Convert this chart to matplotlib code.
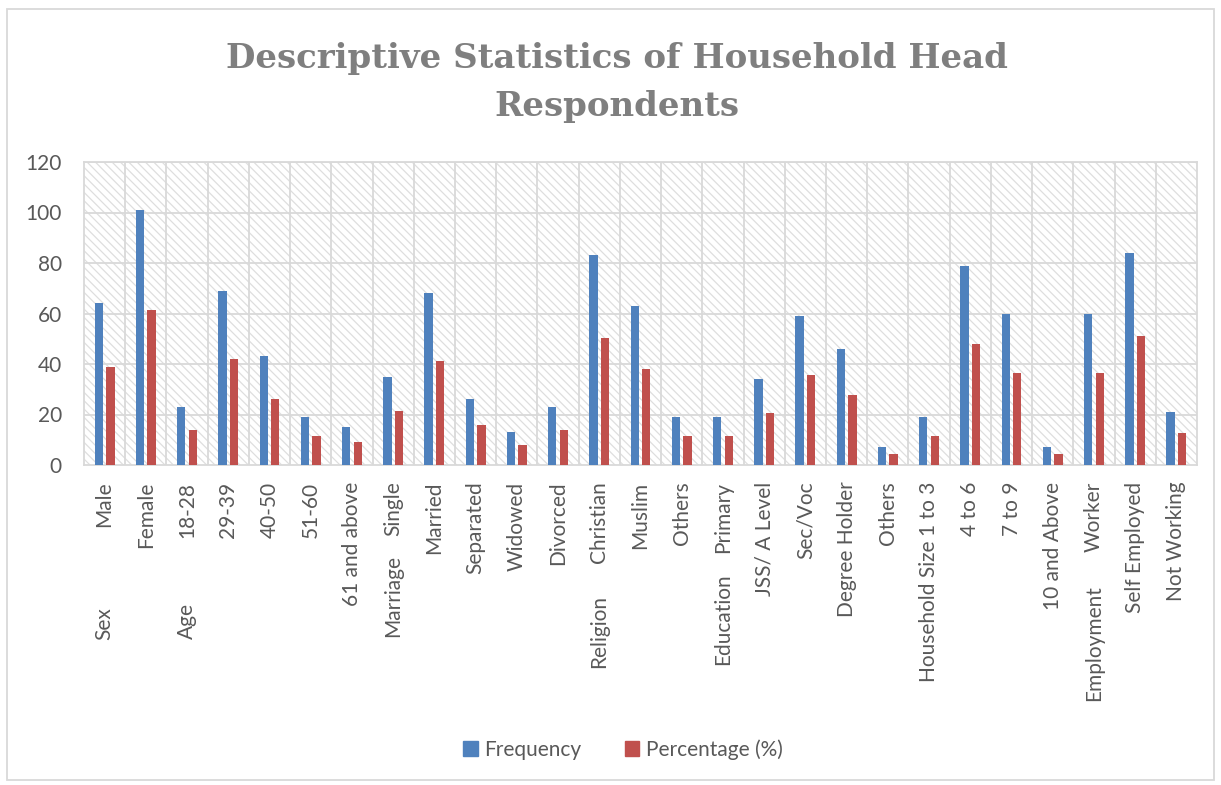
import matplotlib
matplotlib.use("Agg")
import matplotlib.pyplot as plt
import numpy as np
from matplotlib.patches import Patch, Rectangle

# --- data ---
categories = [
    "Male", "Female", "18-28", "29-39", "40-50", "51-60", "61 and above",
    "Single", "Married", "Separated", "Widowed", "Divorced",
    "Christian", "Muslim", "Others",
    "Primary", "JSS/ A Level", "Sec/Voc", "Degree Holder", "Others",
    "1 to 3", "4 to 6", "7 to 9", "10 and Above",
    "Worker", "Self Employed", "Not Working",
]
frequency = [64, 101, 23, 69, 43, 19, 15, 35, 68, 26, 13, 23, 83, 63, 19,
             19, 34, 59, 46, 7, 19, 79, 60, 7, 60, 84, 21]
percentage = [38.8, 61.2, 13.9, 41.8, 26.1, 11.5, 9.1, 21.2, 41.2, 15.8, 7.9,
              13.9, 50.3, 38.2, 11.5, 11.5, 20.6, 35.8, 27.9, 4.2, 11.5, 47.9,
              36.4, 4.2, 36.4, 50.9, 12.7]
groups = ["Sex", "Age", "Marriage", "Religion", "Education", "Household Size", "Employment"]
group_start = [0, 2, 7, 12, 15, 20, 24]

# pixel gap below the axis for each group label (layout only)
group_offset_px = [142, 138, 90, 130, 108, 75, 120]

BLUE = "#4f81bd"
RED = "#c0504d"
GRID = "#d9d9d9"
TEXT = "#595959"

plt.rcParams["font.family"] = ["Lato", "DejaVu Sans"]
plt.rcParams["hatch.linewidth"] = 0.9

fig = plt.figure(figsize=(12.21, 7.85), dpi=100)
ax = fig.add_axes([84 / 1221, 1 - 465 / 785, (1197 - 84) / 1221, (465 - 162) / 785])

# hatched plot area background
ax.add_patch(Rectangle((0, 0), 1, 1, transform=ax.transAxes, facecolor="white",
                       edgecolor="#dedede", hatch="\\\\\\\\", lw=0, zorder=0))

x = np.arange(len(categories))
w = 0.2
ax.bar(x - 0.14, frequency, width=w, color=BLUE, zorder=3, label="Frequency")
ax.bar(x + 0.14, percentage, width=w, color=RED, zorder=3, label="Percentage (%)")

ax.set_xlim(-0.5, len(categories) - 0.5)
ax.set_ylim(0, 120)
ax.set_yticks(range(0, 121, 20))
for yv in range(20, 121, 20):
    ax.axhline(yv, color=GRID, lw=1.3, zorder=1)
for xv in np.arange(0.5, len(categories) - 0.5, 1):
    ax.axvline(xv, color=GRID, lw=1.3, zorder=1)
for s in ax.spines.values():
    s.set_color(GRID)
    s.set_linewidth(1.3)

ax.set_xticks(x)
ax.set_xticklabels(categories, rotation=90, va="top", ha="center")
ax.tick_params(axis="both", length=0, labelsize=15, colors=TEXT)
ax.tick_params(axis="x", pad=12)
ax.tick_params(axis="y", pad=16)

for name, i, off in zip(groups, group_start, group_offset_px):
    ax.annotate(name, xy=(i, 0), xycoords=("data", "axes fraction"),
                xytext=(0, -off * 0.72), textcoords="offset points",
                rotation=90, va="top", ha="center", fontsize=15, color=TEXT)

fig.text(0.505, 0.895, "Descriptive Statistics of Household Head\nRespondents",
         ha="center", va="center", fontsize=24.5, fontweight="bold",
         family="DejaVu Serif", color="#7f7f7f", linespacing=1.6)

handles = [Patch(color=BLUE, label="Frequency"), Patch(color=RED, label="Percentage (%)")]
fig.legend(handles=handles, loc="center", bbox_to_anchor=(0.510, 0.045), ncol=2,
           frameon=False, fontsize=15, labelcolor=TEXT, handlelength=0.7,
           handleheight=0.7, handletextpad=0.3, columnspacing=2.1)

# chart outline
fig.add_artist(Rectangle((7 / 1221, 1 - 780 / 785), 1207 / 1221, 771 / 785,
                         transform=fig.transFigure, fill=False, edgecolor=GRID, lw=1.3))

fig.savefig("out.png", dpi=100)
